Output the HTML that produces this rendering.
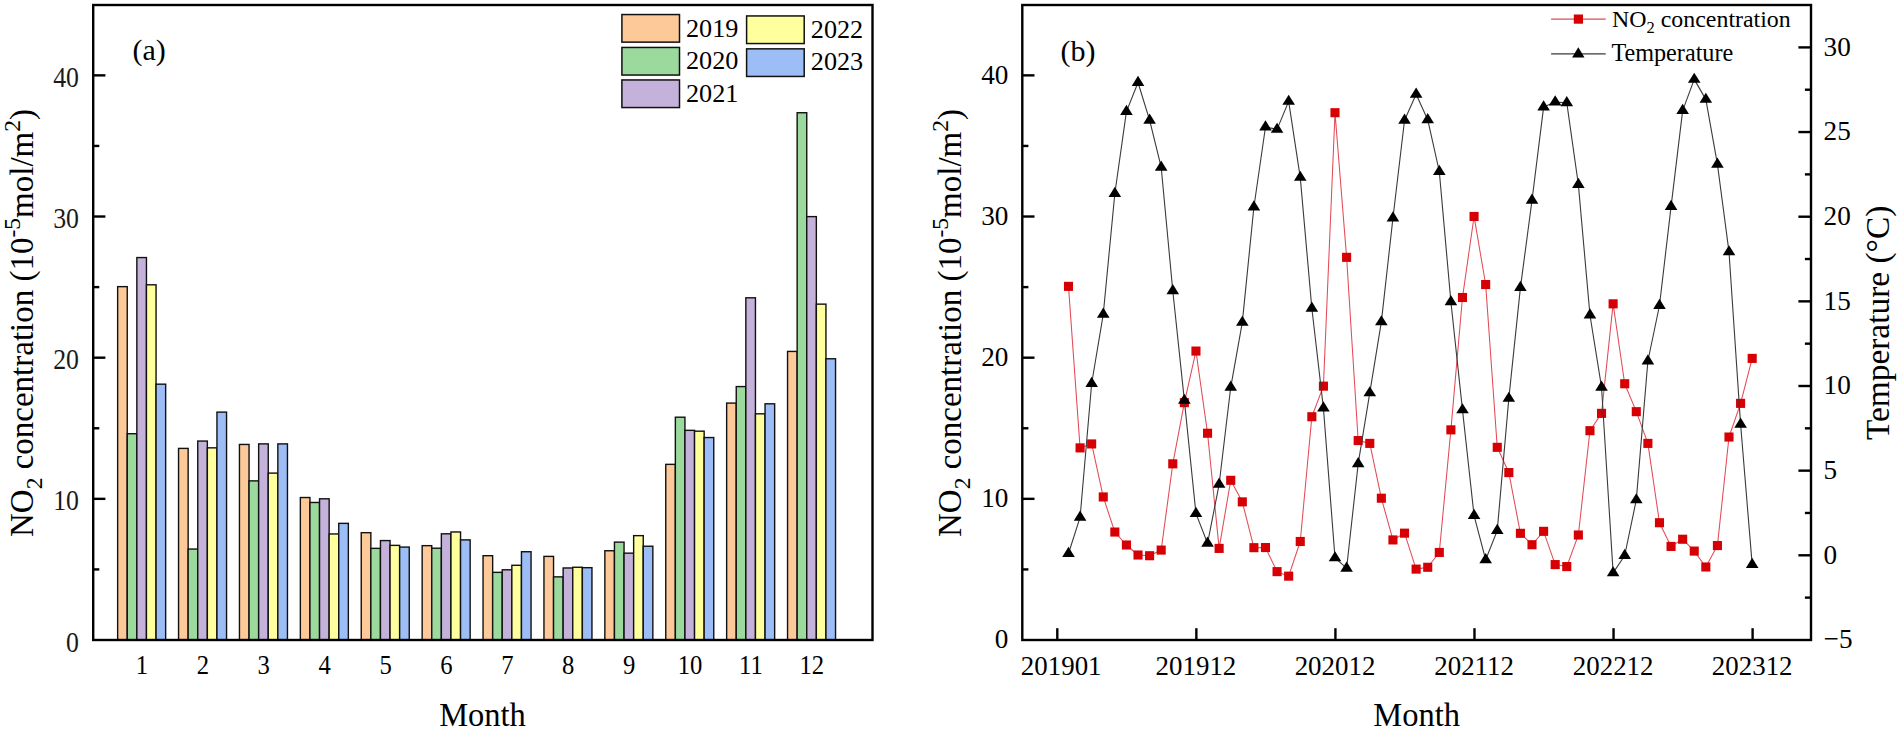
<!DOCTYPE html>
<html lang="en">
<head>
<meta charset="utf-8">
<title>NO2 concentration and temperature</title>
<style>
html,body{margin:0;padding:0;background:#fff;}
body{width:1900px;height:730px;overflow:hidden;}
svg{display:block;}
text{white-space:pre;}
</style>
</head>
<body>
<svg width="1900" height="730" viewBox="0 0 1900 730" font-family='"Liberation Serif", "Times New Roman", Times, serif' fill="#000">
<rect x="0" y="0" width="1900" height="730" fill="#ffffff"/>
<g id="panel-a">
<g stroke="#111" stroke-width="1.4" stroke-linejoin="miter">
<rect x="117.65" y="286.64" width="9.60" height="353.36" fill="#FDC999"/>
<rect x="127.25" y="433.72" width="9.60" height="206.28" fill="#9BD99D"/>
<rect x="136.85" y="257.56" width="9.60" height="382.44" fill="#C4B2DA"/>
<rect x="146.45" y="284.80" width="9.60" height="355.20" fill="#FFFF9E"/>
<rect x="156.05" y="384.18" width="9.60" height="255.82" fill="#9DBDF6"/>
<rect x="178.55" y="448.40" width="9.60" height="191.60" fill="#FDC999"/>
<rect x="188.15" y="549.05" width="9.60" height="90.95" fill="#9BD99D"/>
<rect x="197.75" y="441.06" width="9.60" height="198.94" fill="#C4B2DA"/>
<rect x="207.35" y="447.84" width="9.60" height="192.16" fill="#FFFF9E"/>
<rect x="216.95" y="412.13" width="9.60" height="227.87" fill="#9DBDF6"/>
<rect x="239.45" y="444.45" width="9.60" height="195.55" fill="#FDC999"/>
<rect x="249.05" y="480.87" width="9.60" height="159.13" fill="#9BD99D"/>
<rect x="258.65" y="443.89" width="9.60" height="196.11" fill="#C4B2DA"/>
<rect x="268.25" y="473.11" width="9.60" height="166.89" fill="#FFFF9E"/>
<rect x="277.85" y="443.89" width="9.60" height="196.11" fill="#9DBDF6"/>
<rect x="300.35" y="497.53" width="9.60" height="142.47" fill="#FDC999"/>
<rect x="309.95" y="502.47" width="9.60" height="137.53" fill="#9BD99D"/>
<rect x="319.55" y="498.80" width="9.60" height="141.20" fill="#C4B2DA"/>
<rect x="329.15" y="533.95" width="9.60" height="106.05" fill="#FFFF9E"/>
<rect x="338.75" y="523.36" width="9.60" height="116.64" fill="#9DBDF6"/>
<rect x="361.25" y="532.68" width="9.60" height="107.32" fill="#FDC999"/>
<rect x="370.85" y="548.35" width="9.60" height="91.65" fill="#9BD99D"/>
<rect x="380.45" y="540.58" width="9.60" height="99.42" fill="#C4B2DA"/>
<rect x="390.05" y="545.38" width="9.60" height="94.62" fill="#FFFF9E"/>
<rect x="399.65" y="547.08" width="9.60" height="92.92" fill="#9DBDF6"/>
<rect x="422.15" y="545.66" width="9.60" height="94.34" fill="#FDC999"/>
<rect x="431.75" y="548.20" width="9.60" height="91.80" fill="#9BD99D"/>
<rect x="441.35" y="533.81" width="9.60" height="106.19" fill="#C4B2DA"/>
<rect x="450.95" y="531.97" width="9.60" height="108.03" fill="#FFFF9E"/>
<rect x="460.55" y="539.88" width="9.60" height="100.12" fill="#9DBDF6"/>
<rect x="483.05" y="555.69" width="9.60" height="84.31" fill="#FDC999"/>
<rect x="492.65" y="572.34" width="9.60" height="67.66" fill="#9BD99D"/>
<rect x="502.25" y="569.80" width="9.60" height="70.20" fill="#C4B2DA"/>
<rect x="511.85" y="565.29" width="9.60" height="74.71" fill="#FFFF9E"/>
<rect x="521.45" y="551.73" width="9.60" height="88.27" fill="#9DBDF6"/>
<rect x="543.95" y="556.39" width="9.60" height="83.61" fill="#FDC999"/>
<rect x="553.55" y="576.86" width="9.60" height="63.14" fill="#9BD99D"/>
<rect x="563.15" y="567.97" width="9.60" height="72.03" fill="#C4B2DA"/>
<rect x="572.75" y="567.26" width="9.60" height="72.74" fill="#FFFF9E"/>
<rect x="582.35" y="567.68" width="9.60" height="72.32" fill="#9DBDF6"/>
<rect x="604.85" y="550.75" width="9.60" height="89.25" fill="#FDC999"/>
<rect x="614.45" y="542.13" width="9.60" height="97.87" fill="#9BD99D"/>
<rect x="624.05" y="553.15" width="9.60" height="86.85" fill="#C4B2DA"/>
<rect x="633.65" y="535.64" width="9.60" height="104.36" fill="#FFFF9E"/>
<rect x="643.25" y="546.23" width="9.60" height="93.77" fill="#9DBDF6"/>
<rect x="665.75" y="464.36" width="9.60" height="175.64" fill="#FDC999"/>
<rect x="675.35" y="417.21" width="9.60" height="222.79" fill="#9BD99D"/>
<rect x="684.95" y="430.34" width="9.60" height="209.66" fill="#C4B2DA"/>
<rect x="694.55" y="431.18" width="9.60" height="208.82" fill="#FFFF9E"/>
<rect x="704.15" y="437.54" width="9.60" height="202.46" fill="#9DBDF6"/>
<rect x="726.65" y="403.09" width="9.60" height="236.91" fill="#FDC999"/>
<rect x="736.25" y="386.58" width="9.60" height="253.42" fill="#9BD99D"/>
<rect x="745.85" y="297.79" width="9.60" height="342.21" fill="#C4B2DA"/>
<rect x="755.45" y="413.82" width="9.60" height="226.18" fill="#FFFF9E"/>
<rect x="765.05" y="403.80" width="9.60" height="236.20" fill="#9DBDF6"/>
<rect x="787.55" y="351.43" width="9.60" height="288.57" fill="#FDC999"/>
<rect x="797.15" y="112.73" width="9.60" height="527.27" fill="#9BD99D"/>
<rect x="806.75" y="216.62" width="9.60" height="423.38" fill="#C4B2DA"/>
<rect x="816.35" y="304.14" width="9.60" height="335.86" fill="#FFFF9E"/>
<rect x="825.95" y="358.77" width="9.60" height="281.23" fill="#9DBDF6"/>
</g>
<rect x="93.2" y="5.0" width="779.30" height="635.00" fill="none" stroke="#000" stroke-width="2.4"/>
<g stroke="#000" stroke-width="2.4">
<line x1="93.2" y1="569.42" x2="99.3" y2="569.42"/>
<line x1="93.2" y1="498.84" x2="105.4" y2="498.84"/>
<line x1="93.2" y1="428.26" x2="99.3" y2="428.26"/>
<line x1="93.2" y1="357.68" x2="105.4" y2="357.68"/>
<line x1="93.2" y1="287.10" x2="99.3" y2="287.10"/>
<line x1="93.2" y1="216.52" x2="105.4" y2="216.52"/>
<line x1="93.2" y1="145.94" x2="99.3" y2="145.94"/>
<line x1="93.2" y1="75.36" x2="105.4" y2="75.36"/>
</g>
<g font-size="30" text-anchor="end" fill="#1a1a1a">
<text transform="translate(79.0,651.60) scale(0.86,1)">0</text>
<text transform="translate(79.0,510.44) scale(0.86,1)">10</text>
<text transform="translate(79.0,369.28) scale(0.86,1)">20</text>
<text transform="translate(79.0,228.12) scale(0.86,1)">30</text>
<text transform="translate(79.0,86.96) scale(0.86,1)">40</text>
</g>
<g font-size="28" text-anchor="middle">
<text transform="translate(141.95,674.1) scale(0.88,1)">1</text>
<text transform="translate(202.85,674.1) scale(0.88,1)">2</text>
<text transform="translate(263.75,674.1) scale(0.88,1)">3</text>
<text transform="translate(324.65,674.1) scale(0.88,1)">4</text>
<text transform="translate(385.55,674.1) scale(0.88,1)">5</text>
<text transform="translate(446.45,674.1) scale(0.88,1)">6</text>
<text transform="translate(507.35,674.1) scale(0.88,1)">7</text>
<text transform="translate(568.25,674.1) scale(0.88,1)">8</text>
<text transform="translate(629.15,674.1) scale(0.88,1)">9</text>
<text transform="translate(690.05,674.1) scale(0.88,1)">10</text>
<text transform="translate(750.95,674.1) scale(0.88,1)">11</text>
<text transform="translate(811.85,674.1) scale(0.88,1)">12</text>
</g>
<text transform="translate(482.5,726.2) scale(0.968,1)" font-size="33.6" text-anchor="middle">Month</text>
<text id="ytl-a" transform="translate(33,323) rotate(-90)" font-size="33" text-anchor="middle">NO<tspan font-size="23.5" dy="9.3">2</tspan><tspan dy="-9.3"> concentration (10</tspan><tspan font-size="23.5" dy="-12.8">-5</tspan><tspan dy="12.8">mol/m</tspan><tspan font-size="23.5" dy="-12.8">2</tspan><tspan dy="12.8">)</tspan></text>
<text x="132.4" y="59.8" font-size="30">(a)</text>
<g stroke="#111" stroke-width="1.5">
<rect x="621.9" y="14.55" width="57.6" height="27.6" fill="#FDC999"/>
<rect x="621.9" y="47.45" width="57.6" height="27.6" fill="#9BD99D"/>
<rect x="621.9" y="79.95" width="57.6" height="27.6" fill="#C4B2DA"/>
<rect x="746.6" y="15.95" width="57.6" height="27.6" fill="#FFFF9E"/>
<rect x="746.6" y="48.85" width="57.6" height="27.6" fill="#9DBDF6"/>
</g>
<g font-size="26.2">
<text x="686.0" y="36.6">2019</text>
<text x="686.0" y="68.8">2020</text>
<text x="686.0" y="101.6">2021</text>
<text x="810.8" y="38.0">2022</text>
<text x="810.8" y="70.4">2023</text>
</g>
</g>
<g id="panel-b">
<polyline points="1068.49,286.36 1080.08,447.89 1091.66,443.94 1103.25,496.94 1114.84,532.04 1126.43,545.00 1138.02,555.01 1149.60,555.72 1161.19,550.08 1172.78,463.82 1184.37,402.64 1195.96,351.06 1207.54,433.23 1219.13,548.39 1230.72,480.31 1242.31,501.87 1253.90,547.68 1265.48,547.54 1277.07,571.64 1288.66,576.15 1300.25,541.48 1311.84,416.74 1323.42,386.15 1335.01,112.71 1346.60,257.33 1358.19,440.56 1369.78,443.38 1381.36,498.21 1392.95,539.93 1404.54,533.16 1416.13,569.11 1427.72,567.27 1439.30,552.47 1450.89,429.85 1462.48,297.50 1474.07,216.45 1485.66,284.53 1497.24,447.33 1508.83,472.56 1520.42,533.31 1532.01,544.72 1543.60,531.33 1555.18,564.60 1566.77,566.57 1578.36,535.00 1589.95,430.69 1601.54,413.36 1613.12,303.84 1624.71,383.76 1636.30,411.67 1647.89,443.38 1659.48,522.73 1671.06,546.41 1682.65,539.23 1694.24,551.07 1705.83,566.99 1717.42,545.57 1729.00,437.04 1740.59,403.35 1752.18,358.39" fill="none" stroke="#e24a56" stroke-width="1.05" stroke-linejoin="round"/>
<g fill="#d60004">
<rect x="1063.94" y="281.81" width="9.1" height="9.1"/>
<rect x="1075.53" y="443.34" width="9.1" height="9.1"/>
<rect x="1087.11" y="439.39" width="9.1" height="9.1"/>
<rect x="1098.70" y="492.39" width="9.1" height="9.1"/>
<rect x="1110.29" y="527.49" width="9.1" height="9.1"/>
<rect x="1121.88" y="540.45" width="9.1" height="9.1"/>
<rect x="1133.47" y="550.46" width="9.1" height="9.1"/>
<rect x="1145.05" y="551.17" width="9.1" height="9.1"/>
<rect x="1156.64" y="545.53" width="9.1" height="9.1"/>
<rect x="1168.23" y="459.27" width="9.1" height="9.1"/>
<rect x="1179.82" y="398.09" width="9.1" height="9.1"/>
<rect x="1191.41" y="346.51" width="9.1" height="9.1"/>
<rect x="1202.99" y="428.68" width="9.1" height="9.1"/>
<rect x="1214.58" y="543.84" width="9.1" height="9.1"/>
<rect x="1226.17" y="475.76" width="9.1" height="9.1"/>
<rect x="1237.76" y="497.32" width="9.1" height="9.1"/>
<rect x="1249.35" y="543.13" width="9.1" height="9.1"/>
<rect x="1260.93" y="542.99" width="9.1" height="9.1"/>
<rect x="1272.52" y="567.09" width="9.1" height="9.1"/>
<rect x="1284.11" y="571.60" width="9.1" height="9.1"/>
<rect x="1295.70" y="536.93" width="9.1" height="9.1"/>
<rect x="1307.29" y="412.19" width="9.1" height="9.1"/>
<rect x="1318.87" y="381.60" width="9.1" height="9.1"/>
<rect x="1330.46" y="108.16" width="9.1" height="9.1"/>
<rect x="1342.05" y="252.78" width="9.1" height="9.1"/>
<rect x="1353.64" y="436.01" width="9.1" height="9.1"/>
<rect x="1365.23" y="438.83" width="9.1" height="9.1"/>
<rect x="1376.81" y="493.66" width="9.1" height="9.1"/>
<rect x="1388.40" y="535.38" width="9.1" height="9.1"/>
<rect x="1399.99" y="528.61" width="9.1" height="9.1"/>
<rect x="1411.58" y="564.56" width="9.1" height="9.1"/>
<rect x="1423.17" y="562.72" width="9.1" height="9.1"/>
<rect x="1434.75" y="547.92" width="9.1" height="9.1"/>
<rect x="1446.34" y="425.30" width="9.1" height="9.1"/>
<rect x="1457.93" y="292.95" width="9.1" height="9.1"/>
<rect x="1469.52" y="211.90" width="9.1" height="9.1"/>
<rect x="1481.11" y="279.98" width="9.1" height="9.1"/>
<rect x="1492.69" y="442.78" width="9.1" height="9.1"/>
<rect x="1504.28" y="468.01" width="9.1" height="9.1"/>
<rect x="1515.87" y="528.76" width="9.1" height="9.1"/>
<rect x="1527.46" y="540.17" width="9.1" height="9.1"/>
<rect x="1539.05" y="526.78" width="9.1" height="9.1"/>
<rect x="1550.63" y="560.05" width="9.1" height="9.1"/>
<rect x="1562.22" y="562.02" width="9.1" height="9.1"/>
<rect x="1573.81" y="530.45" width="9.1" height="9.1"/>
<rect x="1585.40" y="426.14" width="9.1" height="9.1"/>
<rect x="1596.99" y="408.81" width="9.1" height="9.1"/>
<rect x="1608.57" y="299.29" width="9.1" height="9.1"/>
<rect x="1620.16" y="379.21" width="9.1" height="9.1"/>
<rect x="1631.75" y="407.12" width="9.1" height="9.1"/>
<rect x="1643.34" y="438.83" width="9.1" height="9.1"/>
<rect x="1654.93" y="518.18" width="9.1" height="9.1"/>
<rect x="1666.51" y="541.86" width="9.1" height="9.1"/>
<rect x="1678.10" y="534.68" width="9.1" height="9.1"/>
<rect x="1689.69" y="546.52" width="9.1" height="9.1"/>
<rect x="1701.28" y="562.44" width="9.1" height="9.1"/>
<rect x="1712.87" y="541.02" width="9.1" height="9.1"/>
<rect x="1724.45" y="432.49" width="9.1" height="9.1"/>
<rect x="1736.04" y="398.80" width="9.1" height="9.1"/>
<rect x="1747.63" y="353.84" width="9.1" height="9.1"/>
</g>
<polyline points="1068.49,553.50 1080.08,517.30 1091.66,383.50 1103.25,314.30 1114.84,193.50 1126.43,111.60 1138.02,82.50 1149.60,120.20 1161.19,167.20 1172.78,290.70 1184.37,400.40 1195.96,513.60 1207.54,543.30 1219.13,484.30 1230.72,387.30 1242.31,322.40 1253.90,207.00 1265.48,127.00 1277.07,129.40 1288.66,101.40 1300.25,177.40 1311.84,308.20 1323.42,408.10 1335.01,557.90 1346.60,568.20 1358.19,463.70 1369.78,392.90 1381.36,321.90 1392.95,218.00 1404.54,120.20 1416.13,94.30 1427.72,119.70 1439.30,171.50 1450.89,301.80 1462.48,409.90 1474.07,515.60 1485.66,559.70 1497.24,530.60 1508.83,398.40 1520.42,287.60 1532.01,200.30 1543.60,107.10 1555.18,102.10 1566.77,102.70 1578.36,184.50 1589.95,315.00 1601.54,387.20 1613.12,572.90 1624.71,555.50 1636.30,499.90 1647.89,361.00 1659.48,305.50 1671.06,206.60 1682.65,110.60 1694.24,79.40 1705.83,99.40 1717.42,164.20 1729.00,251.90 1740.59,424.30 1752.18,564.60" fill="none" stroke="#3a3a3a" stroke-width="1.1" stroke-linejoin="round"/>
<g fill="#000">
<path d="M1068.49 546.75L1074.79 556.95H1062.19Z"/>
<path d="M1080.08 510.55L1086.38 520.75H1073.78Z"/>
<path d="M1091.66 376.75L1097.96 386.95H1085.36Z"/>
<path d="M1103.25 307.55L1109.55 317.75H1096.95Z"/>
<path d="M1114.84 186.75L1121.14 196.95H1108.54Z"/>
<path d="M1126.43 104.85L1132.73 115.05H1120.13Z"/>
<path d="M1138.02 75.75L1144.32 85.95H1131.72Z"/>
<path d="M1149.60 113.45L1155.90 123.65H1143.30Z"/>
<path d="M1161.19 160.45L1167.49 170.65H1154.89Z"/>
<path d="M1172.78 283.95L1179.08 294.15H1166.48Z"/>
<path d="M1184.37 393.65L1190.67 403.85H1178.07Z"/>
<path d="M1195.96 506.85L1202.26 517.05H1189.66Z"/>
<path d="M1207.54 536.55L1213.84 546.75H1201.24Z"/>
<path d="M1219.13 477.55L1225.43 487.75H1212.83Z"/>
<path d="M1230.72 380.55L1237.02 390.75H1224.42Z"/>
<path d="M1242.31 315.65L1248.61 325.85H1236.01Z"/>
<path d="M1253.90 200.25L1260.20 210.45H1247.60Z"/>
<path d="M1265.48 120.25L1271.78 130.45H1259.18Z"/>
<path d="M1277.07 122.65L1283.37 132.85H1270.77Z"/>
<path d="M1288.66 94.65L1294.96 104.85H1282.36Z"/>
<path d="M1300.25 170.65L1306.55 180.85H1293.95Z"/>
<path d="M1311.84 301.45L1318.14 311.65H1305.54Z"/>
<path d="M1323.42 401.35L1329.72 411.55H1317.12Z"/>
<path d="M1335.01 551.15L1341.31 561.35H1328.71Z"/>
<path d="M1346.60 561.45L1352.90 571.65H1340.30Z"/>
<path d="M1358.19 456.95L1364.49 467.15H1351.89Z"/>
<path d="M1369.78 386.15L1376.08 396.35H1363.48Z"/>
<path d="M1381.36 315.15L1387.66 325.35H1375.06Z"/>
<path d="M1392.95 211.25L1399.25 221.45H1386.65Z"/>
<path d="M1404.54 113.45L1410.84 123.65H1398.24Z"/>
<path d="M1416.13 87.55L1422.43 97.75H1409.83Z"/>
<path d="M1427.72 112.95L1434.02 123.15H1421.42Z"/>
<path d="M1439.30 164.75L1445.60 174.95H1433.00Z"/>
<path d="M1450.89 295.05L1457.19 305.25H1444.59Z"/>
<path d="M1462.48 403.15L1468.78 413.35H1456.18Z"/>
<path d="M1474.07 508.85L1480.37 519.05H1467.77Z"/>
<path d="M1485.66 552.95L1491.96 563.15H1479.36Z"/>
<path d="M1497.24 523.85L1503.54 534.05H1490.94Z"/>
<path d="M1508.83 391.65L1515.13 401.85H1502.53Z"/>
<path d="M1520.42 280.85L1526.72 291.05H1514.12Z"/>
<path d="M1532.01 193.55L1538.31 203.75H1525.71Z"/>
<path d="M1543.60 100.35L1549.90 110.55H1537.30Z"/>
<path d="M1555.18 95.35L1561.48 105.55H1548.88Z"/>
<path d="M1566.77 95.95L1573.07 106.15H1560.47Z"/>
<path d="M1578.36 177.75L1584.66 187.95H1572.06Z"/>
<path d="M1589.95 308.25L1596.25 318.45H1583.65Z"/>
<path d="M1601.54 380.45L1607.84 390.65H1595.24Z"/>
<path d="M1613.12 566.15L1619.42 576.35H1606.82Z"/>
<path d="M1624.71 548.75L1631.01 558.95H1618.41Z"/>
<path d="M1636.30 493.15L1642.60 503.35H1630.00Z"/>
<path d="M1647.89 354.25L1654.19 364.45H1641.59Z"/>
<path d="M1659.48 298.75L1665.78 308.95H1653.18Z"/>
<path d="M1671.06 199.85L1677.36 210.05H1664.76Z"/>
<path d="M1682.65 103.85L1688.95 114.05H1676.35Z"/>
<path d="M1694.24 72.65L1700.54 82.85H1687.94Z"/>
<path d="M1705.83 92.65L1712.13 102.85H1699.53Z"/>
<path d="M1717.42 157.45L1723.72 167.65H1711.12Z"/>
<path d="M1729.00 245.15L1735.30 255.35H1722.70Z"/>
<path d="M1740.59 417.55L1746.89 427.75H1734.29Z"/>
<path d="M1752.18 557.85L1758.48 568.05H1745.88Z"/>
</g>
<rect x="1022.3" y="5.0" width="788.70" height="635.00" fill="none" stroke="#000" stroke-width="2.4"/>
<g stroke="#000" stroke-width="2.4">
<line x1="1022.3" y1="569.42" x2="1028.3999999999999" y2="569.42"/>
<line x1="1022.3" y1="498.84" x2="1034.5" y2="498.84"/>
<line x1="1022.3" y1="428.26" x2="1028.3999999999999" y2="428.26"/>
<line x1="1022.3" y1="357.68" x2="1034.5" y2="357.68"/>
<line x1="1022.3" y1="287.10" x2="1028.3999999999999" y2="287.10"/>
<line x1="1022.3" y1="216.52" x2="1034.5" y2="216.52"/>
<line x1="1022.3" y1="145.94" x2="1028.3999999999999" y2="145.94"/>
<line x1="1022.3" y1="75.36" x2="1034.5" y2="75.36"/>
<line x1="1811.0" y1="597.62" x2="1804.9" y2="597.62"/>
<line x1="1811.0" y1="555.30" x2="1798.4" y2="555.30"/>
<line x1="1811.0" y1="512.98" x2="1804.9" y2="512.98"/>
<line x1="1811.0" y1="470.65" x2="1798.4" y2="470.65"/>
<line x1="1811.0" y1="428.32" x2="1804.9" y2="428.32"/>
<line x1="1811.0" y1="386.00" x2="1798.4" y2="386.00"/>
<line x1="1811.0" y1="343.67" x2="1804.9" y2="343.67"/>
<line x1="1811.0" y1="301.35" x2="1798.4" y2="301.35"/>
<line x1="1811.0" y1="259.02" x2="1804.9" y2="259.02"/>
<line x1="1811.0" y1="216.70" x2="1798.4" y2="216.70"/>
<line x1="1811.0" y1="174.38" x2="1804.9" y2="174.38"/>
<line x1="1811.0" y1="132.05" x2="1798.4" y2="132.05"/>
<line x1="1811.0" y1="89.72" x2="1804.9" y2="89.72"/>
<line x1="1811.0" y1="47.40" x2="1798.4" y2="47.40"/>
<line x1="1057.30" y1="640.0" x2="1057.30" y2="628.2"/>
<line x1="1196.36" y1="640.0" x2="1196.36" y2="628.2"/>
<line x1="1335.42" y1="640.0" x2="1335.42" y2="628.2"/>
<line x1="1474.48" y1="640.0" x2="1474.48" y2="628.2"/>
<line x1="1613.54" y1="640.0" x2="1613.54" y2="628.2"/>
<line x1="1752.60" y1="640.0" x2="1752.60" y2="628.2"/>
</g>
<g font-size="27.2" text-anchor="end">
<text x="1008.4" y="648.20">0</text>
<text x="1008.4" y="507.04">10</text>
<text x="1008.4" y="365.88">20</text>
<text x="1008.4" y="224.72">30</text>
<text x="1008.4" y="83.56">40</text>
</g>
<g font-size="27.2" text-anchor="start">
<text x="1823.6" y="648.15">−5</text>
<text x="1823.6" y="563.50">0</text>
<text x="1823.6" y="478.85">5</text>
<text x="1823.6" y="394.20">10</text>
<text x="1823.6" y="309.55">15</text>
<text x="1823.6" y="224.90">20</text>
<text x="1823.6" y="140.25">25</text>
<text x="1823.6" y="55.60">30</text>
</g>
<g font-size="26.9" text-anchor="middle">
<text x="1061.20" y="674.5">201901</text>
<text x="1195.96" y="674.5">201912</text>
<text x="1335.02" y="674.5">202012</text>
<text x="1474.08" y="674.5">202112</text>
<text x="1613.14" y="674.5">202212</text>
<text x="1752.20" y="674.5">202312</text>
</g>
<text transform="translate(1416.7,726.2) scale(0.968,1)" font-size="33.6" text-anchor="middle">Month</text>
<text id="ytl-b" transform="translate(961.1,323) rotate(-90)" font-size="33" text-anchor="middle">NO<tspan font-size="23.5" dy="9.3">2</tspan><tspan dy="-9.3"> concentration (10</tspan><tspan font-size="23.5" dy="-12.8">-5</tspan><tspan dy="12.8">mol/m</tspan><tspan font-size="23.5" dy="-12.8">2</tspan><tspan dy="12.8">)</tspan></text>
<text id="ytr-b" transform="translate(1889,322.9) rotate(-90)" font-size="33.4" text-anchor="middle">Temperature (°C)</text>
<text x="1060.4" y="60.9" font-size="30">(b)</text>
<line x1="1551.1" y1="19.1" x2="1605.7" y2="19.1" stroke="#e24a56" stroke-width="1.05"/>
<rect x="1573.8" y="14.5" width="9.2" height="9.2" fill="#d60004"/>
<line x1="1551.1" y1="53.9" x2="1605.7" y2="53.9" stroke="#3a3a3a" stroke-width="1.1"/>
<path d="M1578.3 47.3L1584.5 57.5H1572.1Z" fill="#000"/>
<text x="1612" y="26.9" font-size="23.9">NO<tspan font-size="16.5" dy="6.3">2</tspan><tspan dy="-6.3"> concentration</tspan></text>
<text x="1611.4" y="61.2" font-size="24.2">Temperature</text>
</g>
</svg>
</body>
</html>
